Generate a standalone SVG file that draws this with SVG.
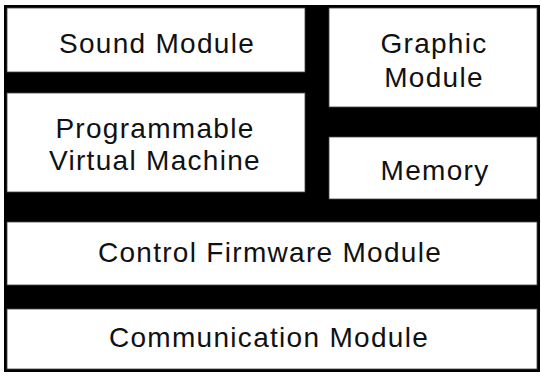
<svg xmlns="http://www.w3.org/2000/svg" width="541" height="375" viewBox="0 0 541 375">
<style>
.box{fill:#ffffff;stroke:#444444;stroke-width:0.8}
.t{font-family:"Liberation Sans",Arial,sans-serif;font-size:28px;letter-spacing:1.3px;fill:#111111;text-anchor:middle}
</style>
<rect x="0" y="0" width="541" height="375" fill="#ffffff"/>
<rect id="frame" x="4" y="5" width="536" height="367" fill="#000000"/>
<g id="sound-module">
<rect class="box" x="7" y="8" width="298" height="64"/>
<text class="t" x="157" y="53">Sound Module</text>
</g>
<g id="graphic-module">
<rect class="box" x="329" y="8" width="208" height="99"/>
<text class="t" x="434" y="53">Graphic</text>
<text class="t" x="434" y="87">Module</text>
</g>
<g id="programmable-virtual-machine">
<rect class="box" x="7" y="93" width="298" height="99"/>
<text class="t" x="155" y="138">Programmable</text>
<text class="t" x="155" y="170">Virtual Machine</text>
</g>
<g id="memory">
<rect class="box" x="329" y="137" width="208" height="62"/>
<text class="t" x="435" y="180">Memory</text>
</g>
<g id="control-firmware-module">
<rect class="box" x="7" y="222" width="530" height="63"/>
<text class="t" x="270" y="262">Control Firmware Module</text>
</g>
<g id="communication-module">
<rect class="box" x="7" y="309" width="530" height="60"/>
<text class="t" x="269" y="347">Communication Module</text>
</g>
<g id="connectors"></g>
</svg>
